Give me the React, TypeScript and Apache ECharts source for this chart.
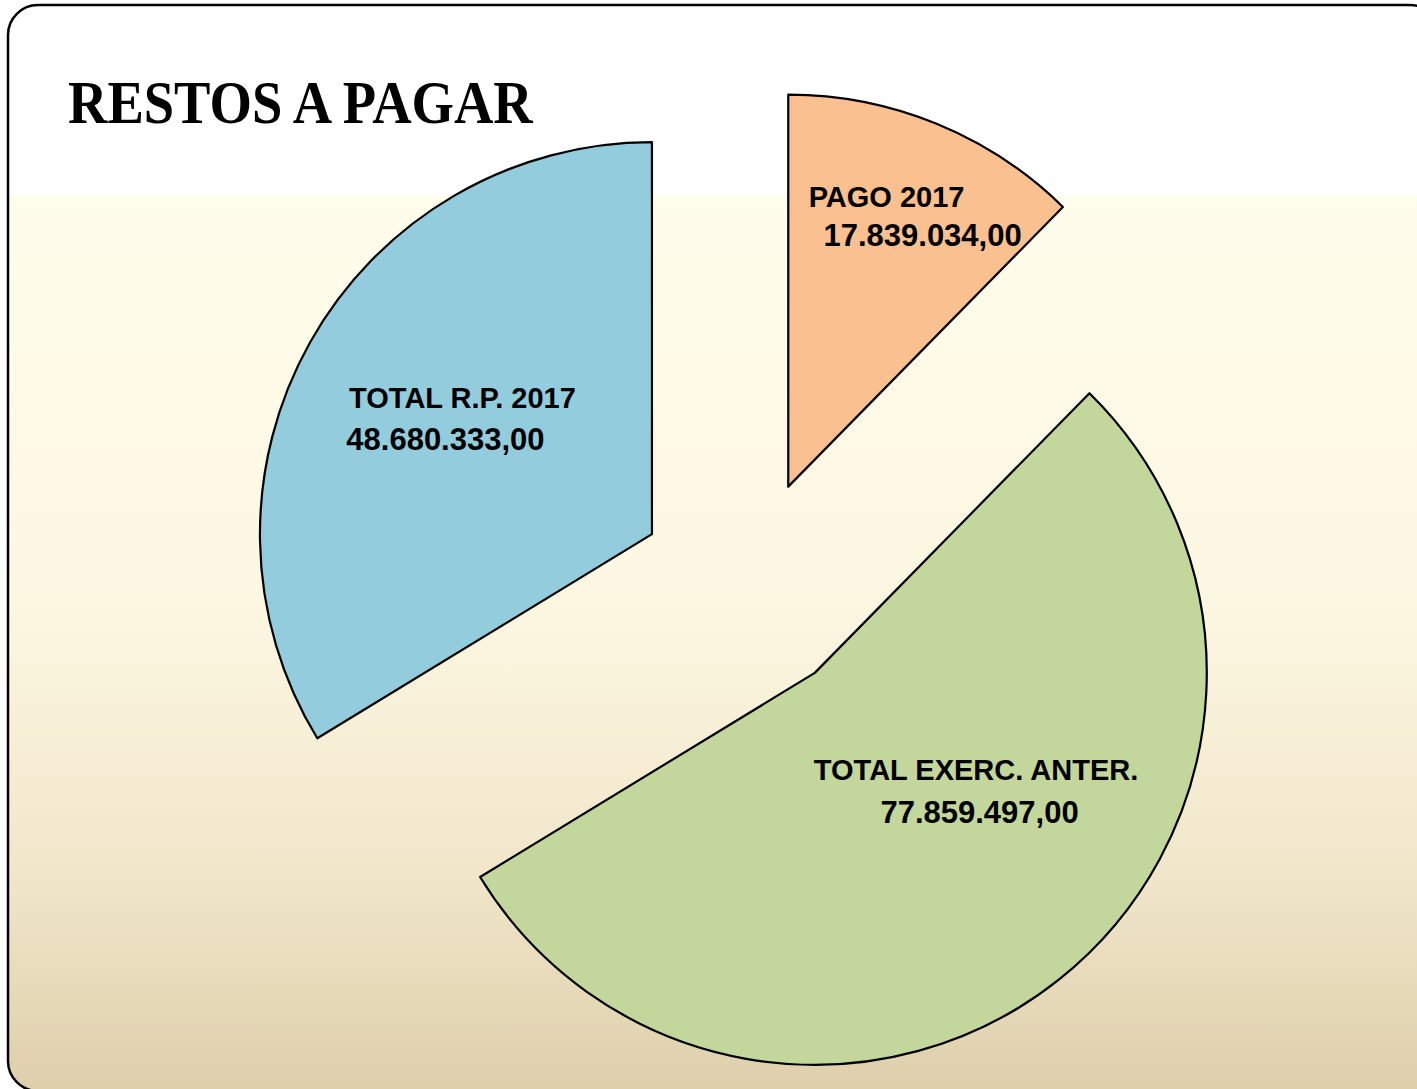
import React, { useEffect, useRef } from "react";
import * as echarts from "echarts";

// ---- Data ----
const categories: string[] = ["PAGO 2017", "TOTAL EXERC. ANTER.", "TOTAL R.P. 2017"];
const values: number[] = [17839034.0, 77859497.0, 48680333.0];
const sliceColors: string[] = ["#FAC090", "#C3D69B", "#93CDDD"];
const titleText = "RESTOS A PAGAR";

// ---- Layout / style constants ----
const W = 1417;
const H = 1089;
const LABEL_DX: number[] = [59, 37.5, -16];
const LABEL_DY: number[] = [-86, -37.5, -18];
const LABEL_LINE_H: number[] = [38, 42, 41];
const LABEL_FONT = "Liberation Sans";

function formatBR(v: number): string {
  const fixed = v.toFixed(2);
  const [intPart, dec] = fixed.split(".");
  const withDots = intPart.replace(/\B(?=(\d{3})+(?!\d))/g, ".");
  return withDots + "," + dec;
}

export default function App() {
  const ref = useRef<HTMLDivElement | null>(null);

  useEffect(() => {
    document.body.style.margin = "0";
    if (!ref.current) return;
    const chart = echarts.init(ref.current, undefined, { renderer: "svg", width: W, height: H });

    const nameText = (i: number) => ({
      fontSize: 29,
      fontWeight: "bold" as const,
      fontFamily: LABEL_FONT,
      color: "#000",
      lineHeight: LABEL_LINE_H[i],
    });
    const numText = (i: number) => ({
      fontSize: 31,
      fontWeight: "bold" as const,
      fontFamily: LABEL_FONT,
      color: "#000",
      lineHeight: LABEL_LINE_H[i],
    });

    const rich: Record<string, any> = {
      t0: { ...nameText(0), padding: [0, 72, 0, 0] },
      v0: { ...numText(0) },
      t1: { ...nameText(1) },
      v1: { ...numText(1), padding: [0, 0, 0, 7] },
      t2: { ...nameText(2) },
      v2: { ...numText(2), padding: [0, 34, 0, 0] },
    };

    const data = categories.map((name, i) => ({
      name,
      value: values[i],
      selected: true,
      itemStyle: { color: sliceColors[i], borderColor: "#000", borderWidth: 2.2 },
      select: { itemStyle: { color: sliceColors[i], borderColor: "#000", borderWidth: 2.2 } },
    }));

    const option: any = {
      animation: false,
      backgroundColor: "transparent",
      graphic: {
        elements: [
          {
            type: "rect",
            z: 0,
            silent: true,
            shape: { x: 8, y: 5, width: 1432, height: 1086, r: 30 },
            style: {
              fill: new echarts.graphic.LinearGradient(0, 0, 0, 1, [
                { offset: 0, color: "#FFFFFF" },
                { offset: 0.175, color: "#FFFFFF" },
                { offset: 0.176, color: "#FFFDEC" },
                { offset: 0.55, color: "#FDF7E2" },
                { offset: 0.8, color: "#F1E6CA" },
                { offset: 1, color: "#DDCFAA" },
              ]),
              stroke: "#000",
              lineWidth: 2.5,
            },
          },
          {
            type: "text",
            z: 10,
            x: 68,
            y: 102,
            scaleX: 0.88,
            style: {
              text: titleText,
              font: 'bold 62px "Liberation Serif"',
              fill: "#000",
              textVerticalAlign: "middle",
              textAlign: "left",
            },
          },
        ],
      },
      series: [
        {
          type: "pie",
          z: 2,
          center: [747, 587.5],
          radius: [0, 392],
          startAngle: 90,
          clockwise: true,
          selectedMode: "multiple",
          selectedOffset: 109,
          avoidLabelOverlap: false,
          emphasis: { disabled: true },
          label: {
            show: true,
            position: "inside",
            formatter: (p: any) => {
              const i = p.dataIndex;
              return `{t${i}|${p.name}}\n{v${i}|${formatBR(p.value)}}`;
            },
            rich,
          },
          labelLine: { show: false },
          labelLayout: (p: any) => ({ dx: LABEL_DX[p.dataIndex], dy: LABEL_DY[p.dataIndex] }),
          data,
        },
      ],
    };

    chart.setOption(option);
    return () => {
      chart.dispose();
    };
  }, []);

  return <div ref={ref} style={{ width: W, height: H }} />;
}
